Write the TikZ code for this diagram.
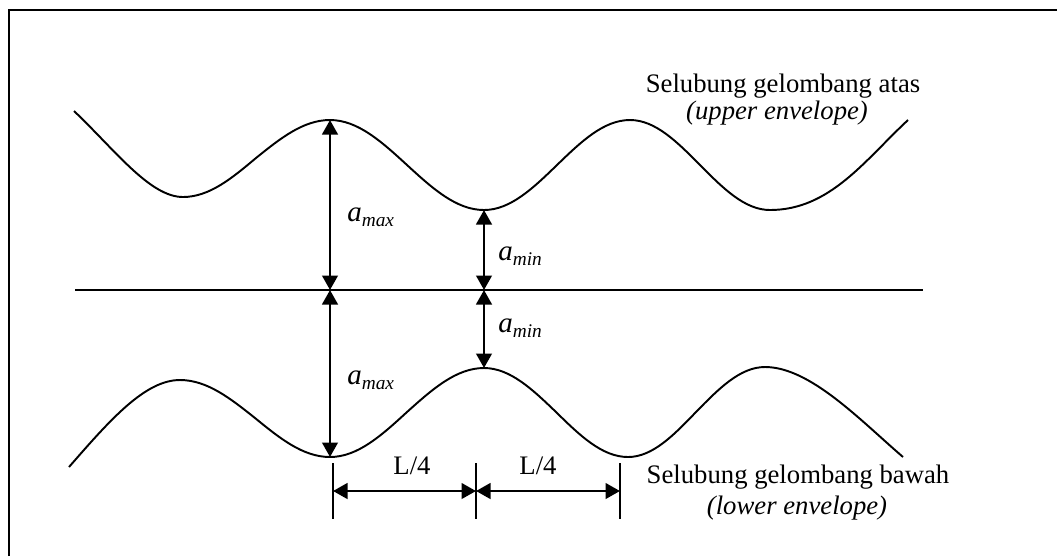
\documentclass[tikz,border=0pt]{standalone}
\usepackage{fontspec}
\setmainfont{Liberation Serif}
\usepackage{tikz}
\usetikzlibrary{arrows.meta}

\newcommand{\alabel}[1]{\textit{a}\raisebox{-0.2em}{\fontsize{11}{12}\selectfont\textit{#1}}}

\begin{document}
\begin{tikzpicture}[
    x=0.02cm, y=-0.02cm,
    wave/.style={line width=1.1pt},
    axis/.style={line width=1.2pt},
    frame/.style={line width=1.2pt},
    arrow/.style={{Triangle[length=2.9mm,width=3.1mm]}-{Triangle[length=2.9mm,width=3.1mm]}, line width=1.6pt},
    tick/.style={line width=1pt},
    txt/.style={inner sep=0pt, anchor=base, font=\fontsize{15.2}{18}\selectfont},
    lbl/.style={inner sep=0pt, anchor=base west, font=\fontsize{16.5}{18}\selectfont}
]
\useasboundingbox (0,0) rectangle (1057,556);

% Frame (only top and left edge visible)
\draw[frame] (9,556) -- (9,10) -- (1057,10);

% Points on the envelopes
\coordinate (umax) at (330,120);
\coordinate (umin) at (484,210);
\coordinate (lmax) at (330,457);
\coordinate (lmin) at (484,368);
\coordinate (cmax) at (330,290);
\coordinate (cmin) at (484,290);

% Upper envelope
\draw[wave] (74,111) .. controls (115,150) and (150,197) .. (183,197)
    cos (256,158) sin (umax) cos (407,165) sin (umin)
    cos (557,165) sin (630,120) cos (700,165) sin (770,210)
    .. controls (830,210) and (865,160) .. (908,120);

% Lower envelope
\draw[wave] (69,467) .. controls (110,420) and (145,380) .. (180,380)
    cos (255,418) sin (lmax) cos (407,412) sin (lmin)
    cos (556,412) sin (628,457) cos (696,412) sin (765,367)
    .. controls (810,367) and (860,420) .. (903,457);

% Mean line
\coordinate (axl) at (75,290);
\coordinate (axr) at (923,290);
\draw[axis] (axl) -- (axr);

% Amplitude arrows
\draw[arrow] (umax) -- (cmax);
\draw[arrow] (cmax) -- (lmax);
\draw[arrow] (umin) -- (cmin);
\draw[arrow] (cmin) -- (lmin);

\node[lbl] (amax1) at (347,221) {\alabel{max}};
\node[lbl] (amin1) at (498,260) {\alabel{min}};
\node[lbl] (amin2) at (498,332) {\alabel{min}};
\node[lbl] (amax2) at (347,384) {\alabel{max}};

% Quarter wavelength marks
\coordinate (k1t) at (333,463); \coordinate (k1b) at (333,519); \coordinate (k1) at (333,491);
\coordinate (k2t) at (476,463); \coordinate (k2b) at (476,519); \coordinate (k2) at (476,491);
\coordinate (k3t) at (620,463); \coordinate (k3b) at (620,519); \coordinate (k3) at (620,491);
\draw[tick] (k1t) -- (k1b);
\draw[tick] (k2t) -- (k2b);
\draw[tick] (k3t) -- (k3b);
\draw[arrow] (k1) -- (k2);
\draw[arrow] (k2) -- (k3);
\node[txt] (q1) at (412,474) {L/4};
\node[txt] (q2) at (538,474) {L/4};

% Envelope names
\node[txt] (up1) at (783,92) {Selubung gelombang atas};
\node[txt] (up2) at (777,119) {\textit{(upper envelope)}};
\node[txt] (lo1) at (798,483) {Selubung gelombang bawah};
\node[txt] (lo2) at (797,514) {\textit{(lower envelope)}};

\end{tikzpicture}
\end{document}
